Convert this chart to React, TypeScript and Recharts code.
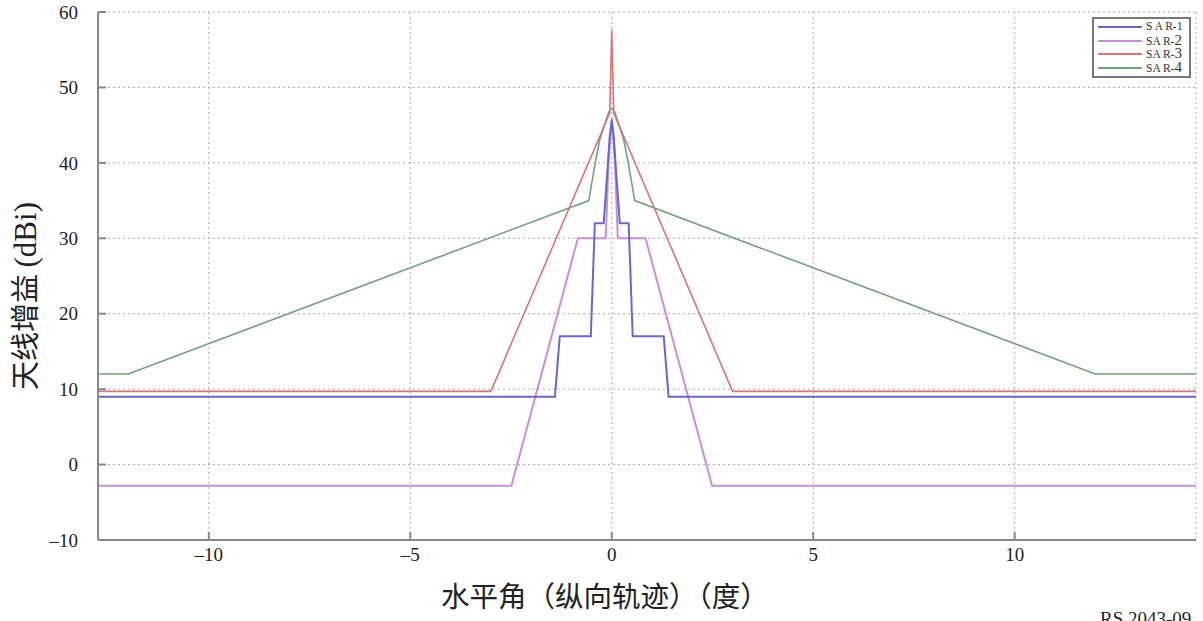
import { LineChart, Line, XAxis, YAxis, CartesianGrid, Legend } from 'recharts';

// antenna patterns, horizontal angle (deg) vs gain (dBi)
const sar1Angle = [-12.75, -1.41, -1.29, -0.52, -0.42, -0.2, -0.12, -0.05, 0, 0.05, 0.12, 0.2, 0.42, 0.52, 1.29, 1.41, 14.5];
const sar1Gain = [9, 9, 17, 17, 32, 32, 38, 43.5, 45.6, 43.5, 38, 32, 32, 17, 17, 9, 9];

const sar2Angle = [-12.75, -2.49, -0.84, -0.15, -0.08, 0, 0.08, 0.15, 0.84, 2.49, 14.5];
const sar2Gain = [-2.8, -2.8, 30, 30, 40, 46, 40, 30, 30, -2.8, -2.8];

const sar3Angle = [-12.75, -3.0, -0.05, 0, 0.05, 3.0, 14.5];
const sar3Gain = [9.7, 9.7, 46.6, 57.6, 46.6, 9.7, 9.7];

const sar4Angle = [-12.75, -12.0, -0.57, -0.41, -0.3, -0.17, -0.07, 0, 0.07, 0.17, 0.3, 0.41, 0.57, 12.0, 14.5];
const sar4Gain = [12, 12, 35, 40, 43, 45.2, 46.8, 47.2, 46.8, 45.2, 43, 40, 35, 12, 12];

const xTicks = [-10, -5, 0, 5, 10];
const yTicks = [-10, 0, 10, 20, 30, 40, 50, 60];

const toPoints = (angle: number[], gain: number[]) =>
  angle.map((a, i) => ({ angle: a, gain: gain[i] }));

const series = [
  { name: 'SAR-4', label: 'SA R-', num: '4', color: '#6fa47a', width: 1.6, data: toPoints(sar4Angle, sar4Gain) },
  { name: 'SAR-3', label: 'SA R-', num: '3', color: '#d4767a', width: 1.6, data: toPoints(sar3Angle, sar3Gain) },
  { name: 'SAR-2', label: 'SA R-', num: '2', color: '#c98ed8', width: 2, data: toPoints(sar2Angle, sar2Gain) },
  { name: 'SAR-1', label: 'S A R-', num: '1', color: '#6a68c4', width: 2, data: toPoints(sar1Angle, sar1Gain) },
];

const fmt = (v: number) => (v < 0 ? `–${Math.abs(v)}` : `${v}`);

const LegendBox = () => (
  <div
    style={{
      border: '2px solid #777',
      background: '#fff',
      width: 95,
      padding: '1px 0 1px 0',
      fontFamily: '"Liberation Serif", serif',
      color: '#333',
    }}
  >
    {[...series].reverse().map((s) => (
      <div key={s.name} style={{ display: 'flex', alignItems: 'center', height: 13.7, lineHeight: '13px' }}>
        <svg width={48} height={6} style={{ marginLeft: 4 }}>
          <line x1={0} y1={3} x2={44} y2={3} stroke={s.color} strokeWidth={2} />
        </svg>
        <span style={{ fontSize: 11.5, whiteSpace: 'nowrap' }}>
          {s.label}
          <span style={{ fontSize: s.num === '1' ? 12 : 15 }}>{s.num}</span>
        </span>
      </div>
    ))}
  </div>
);

const App = () => {
  return (
    <div style={{ position: 'absolute', left: 0, top: 0, width: 1203, height: 621, background: '#fff' }}>
      <LineChart width={1203} height={621} margin={{ top: 12, right: 7, bottom: 0, left: 0 }}>
        <CartesianGrid stroke="#aaa" strokeDasharray="2 3" horizontalValues={yTicks.slice(1)} />
        <XAxis
          type="number"
          dataKey="angle"
          domain={[-12.75, 14.5]}
          ticks={xTicks}
          allowDataOverflow
          height={81}
          tickSize={-8}
          tickMargin={16}
          tickFormatter={fmt}
          axisLine={{ stroke: '#888', strokeWidth: 2 }}
          tickLine={{ stroke: '#888', strokeWidth: 2 }}
          tick={{ fill: '#222', fontSize: 19, fontFamily: '"Liberation Serif", serif' }}
        />
        <YAxis
          type="number"
          domain={[-10, 60]}
          ticks={yTicks}
          width={98}
          tickSize={-8}
          tickMargin={28}
          tickFormatter={fmt}
          axisLine={{ stroke: '#888', strokeWidth: 2 }}
          tickLine={{ stroke: '#888', strokeWidth: 2 }}
          tick={{ fill: '#222', fontSize: 19, fontFamily: '"Liberation Serif", serif' }}
        />
        <Legend
          content={<LegendBox />}
          layout="horizontal"
          verticalAlign="middle"
          align="center"
          wrapperStyle={{ left: 1092, top: 17, width: 99, height: 'auto' }}
        />
        {series.map((s) => (
          <Line
            key={s.name}
            data={s.data}
            dataKey="gain"
            name={s.name}
            type="linear"
            stroke={s.color}
            strokeWidth={s.width}
            dot={false}
            isAnimationActive={false}
          />
        ))}
      </LineChart>
      <div
        style={{
          position: 'absolute',
          left: 605,
          top: 578,
          transform: 'translateX(-50%)',
          fontFamily: '"Noto Sans CJK SC", sans-serif',
          fontSize: 28.5,
          lineHeight: '34px',
          color: '#222',
          whiteSpace: 'nowrap',
        }}
      >
        水平角（纵向轨迹）（度）
      </div>
      <div
        style={{
          position: 'absolute',
          left: 24,
          top: 296,
          transform: 'translate(-50%, -50%) rotate(-90deg)',
          fontFamily: '"Noto Sans CJK SC", sans-serif',
          fontSize: 29,
          lineHeight: '34px',
          color: '#222',
          whiteSpace: 'nowrap',
        }}
      >
        天线增益 <span style={{ fontFamily: '"Liberation Serif", serif', fontSize: 31 }}>(dBi)</span>
      </div>
      <div
        style={{
          position: 'absolute',
          left: 1100,
          top: 609,
          fontFamily: '"Liberation Serif", serif',
          fontSize: 19,
          lineHeight: '20px',
          color: '#222',
          whiteSpace: 'nowrap',
        }}
      >
        RS.2043-09
      </div>
    </div>
  );
};

export default App;
